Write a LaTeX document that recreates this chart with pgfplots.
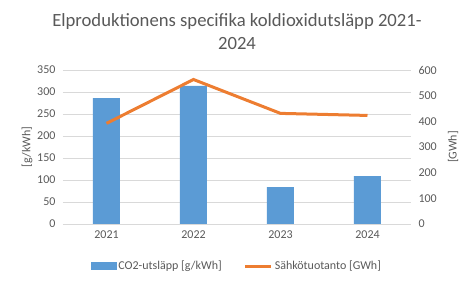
\documentclass[border=0pt]{standalone}
\usepackage{pgfplots}
\pgfplotsset{compat=1.18}
\usepackage{fontspec}
\setmainfont{Carlito}
\definecolor{barblue}{HTML}{5B9BD5}
\definecolor{lineorange}{HTML}{ED7D31}
\definecolor{txtgray}{HTML}{595959}
\definecolor{gridgray}{HTML}{D9D9D9}
\begin{document}
\begin{tikzpicture}
\pgfplotsset{
 base/.style={scale only axis, width=348pt, height=154pt, xmin=-0.5, xmax=3.5,
   at={(0,0)}, anchor=south west,
   /pgf/number format/assume math mode=true,
   tick label style={font=\fontsize{12}{14}\selectfont, text=txtgray},
   major tick length=0pt,
   label style={font=\fontsize{12}{14}\selectfont, text=txtgray}}
}
\useasboundingbox (-63pt,-60pt) rectangle (412pt,224pt);
\node[align=center, font=\fontsize{18.67}{23}\selectfont, text=txtgray] at (174pt,192pt)
  {Elproduktionens specifika koldioxidutsläpp 2021-\\2024};
\begin{axis}[base, ymin=0, ymax=350, ytick={0,50,...,350},
  xtick={0,1,2,3}, xticklabels={2021,2022,2023,2024},
  axis x line*=bottom, axis y line*=left,
  y axis line style={draw=none}, x axis line style={draw=gridgray, line width=0.75pt, -},
  ymajorgrids, grid style={draw=gridgray, line width=0.75pt},
  ylabel={[g/kWh]},
  ylabel style={at={(axis description cs:-0.103,0.5)}, anchor=center},
  yticklabel style={anchor=east, xshift=-4pt},
  xticklabel style={yshift=-3pt},
  ybar, bar width=27pt]
\addplot[fill=barblue, draw=none] coordinates {(0,286) (1,314) (2,84) (3,109)};
\end{axis}
\begin{axis}[base, ymin=0, ymax=600, ytick={0,100,...,600},
  xtick=\empty, axis x line=none, axis y line*=right,
  y axis line style={draw=none},
  ylabel={[GWh]},
  ylabel style={at={(axis description cs:1.121,0.5)}, anchor=center},
  yticklabel style={anchor=west, xshift=4pt},
  legend style={at={(0.5,-0.273)}, anchor=center, draw=none, fill=none,
    font=\fontsize{12}{14}\selectfont, text=txtgray, legend columns=2,
    /tikz/every even column/.append style={column sep=20pt}}]
\addlegendimage{legend image code/.code={\fill[barblue] (0pt,-3.5pt) rectangle (25pt,3.5pt);}}
\addlegendentry{CO2-utsläpp [g/kWh]}
\addplot[lineorange, line width=3pt, mark=none,
  legend image code/.code={\draw[lineorange, line width=3pt] (0pt,0pt) -- (26pt,0pt);}]
  coordinates {(0,392) (1,563) (2,431) (3,423)};
\addlegendentry{Sähkötuotanto [GWh]}
\end{axis}
\end{tikzpicture}
\end{document}
